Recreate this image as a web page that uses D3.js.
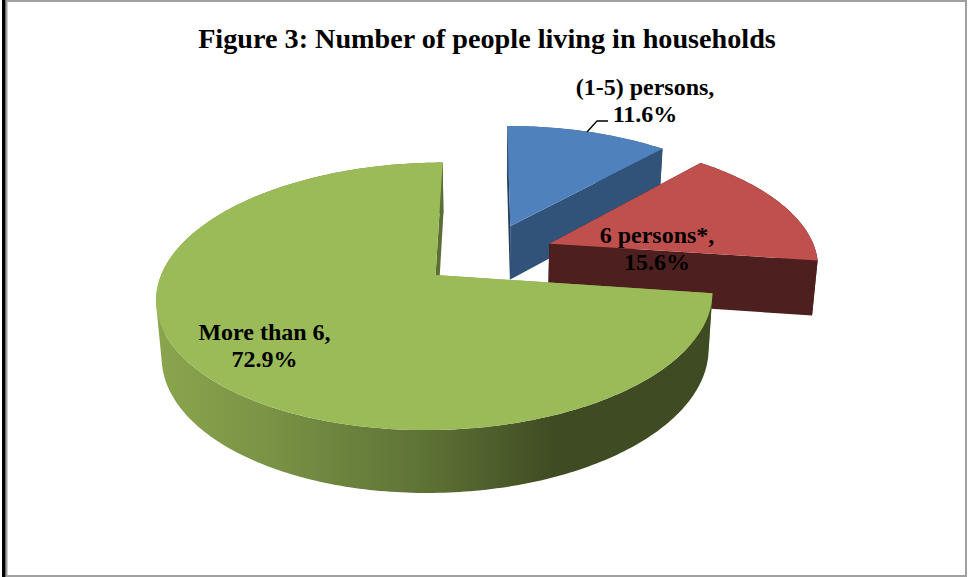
<!DOCTYPE html>
<html>
<head>
<meta charset="utf-8">
<style>
  html, body { margin: 0; padding: 0; background: #fff; }
  svg { display: block; }
  text { font-family: "Liberation Serif", "Times New Roman", serif; font-weight: bold; fill: #000; }
</style>
<script src="https://cdn.jsdelivr.net/npm/d3@7"></script>
</head>
<body>
<svg id="chart" width="969" height="577"></svg>
<script>
// Household size shares, in percent
const titleText = "Figure 3: Number of people living in households";
const categories = ["(1-5) persons", "6 persons*", "More than 6"];
const shares = [11.6, 15.6, 72.9];
const topColors = ["#4f81bd", "#c0504d", "#9bbb59"];
const sideColors = ["#31537a", "#4d1f1f", "url(#greenSide)"];
const edgeColors = ["#1f3b5a", "#3a1616", "#84a24c"];

const svg = d3.select("#chart");

// Layout of the tilted disc
const explode = 0.25;
const tilt = 0.155;   // foreshortening toward the far edge
const topFace = {
  x: d3.scaleLinear().domain([-1, 1]).range([487.3 - 267.5, 487.3 + 267.5]),
  y: d3.scaleLinear().domain([-1, 1]).range([254.2 - 123.8, 254.2 + 123.8])
};
const bottomFace = {
  x: d3.scaleLinear().domain([-1, 1]).range([487.3 - 263, 487.3 + 263]),
  y: d3.scaleLinear().domain([-1, 1]).range([309 - 129.5, 309 + 129.5])
};

// Flat pie coordinates to screen coordinates on one of the two faces
const project = (face, X, Y) => {
  const w = 1 - tilt * Y;
  return [face.x(X / w), face.y(Y / w)];
};

const pie = d3.pie().sort(null).startAngle(0).endAngle(2 * Math.PI);
const slices = pie(shares).map((s, i) => {
  const mid = (s.startAngle + s.endAngle) / 2;
  return {
    ...s, i,
    ox: explode * Math.sin(mid),
    oy: -explode * Math.cos(mid),
    name: categories[i]
  };
});

const rimPoint = (s, face, a) => project(face, s.ox + Math.sin(a), s.oy - Math.cos(a));
const apexPoint = (s, face) => project(face, s.ox, s.oy);
const rim = (s, face) => {
  const n = Math.max(8, Math.ceil((s.endAngle - s.startAngle) * 60));
  return d3.range(n + 1).map(k =>
    rimPoint(s, face, s.startAngle + (s.endAngle - s.startAngle) * k / n));
};
const line = d3.line().curve(d3.curveLinear);
const closed = pts => line(pts) + "Z";

// The outer wall as one path of same-winding quads, so its silhouette
// runs straight from the top rim down to the bottom rim.
const wallStrip = (upper, lower) => d3.range(upper.length - 1).map(k => {
  const quad = [upper[k], upper[k + 1], lower[k + 1], lower[k]];
  return closed(d3.polygonArea(quad) < 0 ? quad.reverse() : quad);
}).join("");

// Shading of the long outer wall
const defs = svg.append("defs");
const greenSide = defs.append("linearGradient")
  .attr("id", "greenSide")
  .attr("gradientUnits", "userSpaceOnUse")
  .attr("x1", 156).attr("x2", 711).attr("y1", 0).attr("y2", 0);
[[0, "#8ba54e"], [0.2, "#7a9345"], [0.5, "#5c7035"], [0.72, "#3f4b22"], [1, "#3f4b22"]]
  .forEach(([o, c]) => greenSide.append("stop").attr("offset", o).attr("stop-color", c));

// Frame around the figure
svg.append("rect").attr("x", 6.5).attr("y", 1).attr("width", 959.5).attr("height", 575)
  .attr("fill", "#fff").attr("stroke", "#a0a0a0").attr("stroke-width", 2);
svg.append("rect").attr("x", 2).attr("y", 0).attr("width", 3.5).attr("height", 577).attr("fill", "#000");

// Slices, far to near: radial walls, outer wall, top face
const g = svg.append("g");
slices.forEach(s => {
  const sg = g.append("g").attr("class", "slice");
  const topRim = rim(s, topFace);
  const lowRim = rim(s, bottomFace);
  const wall = (a) => closed([
    apexPoint(s, topFace), rimPoint(s, topFace, a),
    rimPoint(s, bottomFace, a), apexPoint(s, bottomFace)
  ]);
  sg.append("path").attr("d", wall(s.startAngle)).attr("fill", edgeColors[s.i]);
  sg.append("path")
    .attr("d", wallStrip(topRim, lowRim))
    .attr("fill", sideColors[s.i]);
  sg.append("path").attr("d", wall(s.endAngle)).attr("fill", sideColors[s.i]);
  sg.append("path")
    .attr("d", closed([apexPoint(s, topFace)].concat(topRim)))
    .attr("fill", topColors[s.i]);
});

// Title
svg.append("text").attr("x", 487).attr("y", 47.5).attr("text-anchor", "middle")
  .attr("font-size", 28.2).text(titleText);

// Data labels, name on the first line and share on the second
const labelSpots = [
  { x: 645, y: 95 },
  { x: 657, y: 242.5 },
  { x: 264.5, y: 340 }
];
slices.forEach(s => {
  const t = svg.append("text").attr("text-anchor", "middle").attr("font-size", 24);
  const p = labelSpots[s.i];
  t.append("tspan").attr("x", p.x).attr("y", p.y).text(s.name + ",");
  t.append("tspan").attr("x", p.x).attr("y", p.y + 27).text(d3.format(".1f")(s.data) + "%");
});

// Leader from the blue slice to its label
svg.append("path")
  .attr("d", line([[587, 132], [597, 121], [608, 121]]))
  .attr("fill", "none").attr("stroke", "#000").attr("stroke-width", 1.3);
</script>
</body>
</html>
